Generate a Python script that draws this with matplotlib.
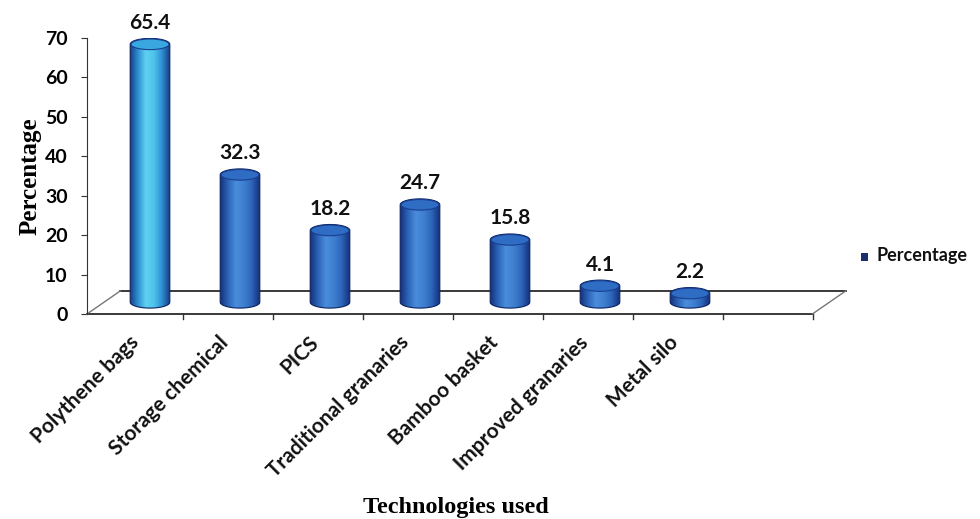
import numpy as np
import matplotlib.pyplot as plt
from matplotlib.path import Path
from matplotlib.patches import PathPatch, Ellipse, Rectangle
from matplotlib.colors import LinearSegmentedColormap

categories = ['Polythene bags', 'Storage chemical', 'PICS', 'Traditional granaries',
              'Bamboo basket', 'Improved granaries', 'Metal silo']
values = [65.4, 32.3, 18.2, 24.7, 15.8, 4.1, 2.2]
y_ticks = [0, 10, 20, 30, 40, 50, 60, 70]

W, H = 980, 519
fig = plt.figure(figsize=(W / 100, H / 100), dpi=100)
# axes placed in pixel terms: y=0 at 314px, y=70 at 38px
x0_px, x1_px = 87, 840
ax = fig.add_axes([x0_px / W, (H - 314) / H, (x1_px - x0_px) / W, (314 - 38) / H])
px_per_unit = 90.0
xmin = -0.7
xmax = xmin + (x1_px - x0_px) / px_per_unit

# pseudo-3d floor
depth_x, depth_y = 0.37, 5.85
front_l, front_r = -0.7, 7.36
floor_kw = dict(color='#2a2a2a', lw=1.3, clip_on=False, zorder=1)
ax.plot([front_l, front_r], [0, 0], **floor_kw)
ax.plot([front_l + depth_x, front_r + depth_x], [depth_y, depth_y], **floor_kw)
ax.plot([front_l, front_l + depth_x], [0, depth_y], color='#777777', lw=1, clip_on=False)
ax.plot([front_r, front_r + depth_x], [0, depth_y], color='#777777', lw=1, clip_on=False)
for t in np.arange(0.37, 7.4, 1.0):
    ax.plot([t, t], [0, -1.2], color='#333333', lw=1, clip_on=False)

# cylinders
base = 3.0
bw = 0.44
eh = 3.0
cmap_first = LinearSegmentedColormap.from_list('c1', ['#173f86', '#2f8fd2', '#5fd2f2', '#4fc4ec', '#2f8fd2', '#173f86'])
cmap_rest = LinearSegmentedColormap.from_list('c2', ['#14307a', '#2c64b8', '#4a8ddb', '#3f7fd0', '#2c64b8', '#14307a'])
grad = np.linspace(0, 1, 200).reshape(1, -1)

for i, v in enumerate(values):
    cx = i
    top = base + v
    t1 = np.linspace(np.pi, 2 * np.pi, 60)
    t2 = np.linspace(0, np.pi, 60)
    xs = np.concatenate([cx + bw / 2 * np.cos(t1), cx + bw / 2 * np.cos(t2)])
    ys = np.concatenate([base + eh / 2 * np.sin(t1), top + eh / 2 * np.sin(t2)])
    verts = np.column_stack([xs, ys])
    path = Path(np.vstack([verts, verts[:1]]), closed=True)
    patch = PathPatch(path, facecolor='none', edgecolor='#0d2460', lw=0.8, zorder=3)
    ax.add_patch(patch)
    cmap = cmap_first if i == 0 else cmap_rest
    im = ax.imshow(grad, cmap=cmap, aspect='auto', zorder=2,
                   extent=[cx - bw / 2, cx + bw / 2, base - eh, top + eh])
    im.set_clip_path(patch)
    cap_col = '#3aa8e0' if i == 0 else '#2f6cc4'
    ax.add_patch(Ellipse((cx, top), bw * 0.96, eh * 0.9, facecolor=cap_col,
                         edgecolor='#1a3f8f', lw=0.8, zorder=4))
    ax.annotate(f'{v}', (cx, top + eh / 2), xytext=(0, 4), textcoords='offset points',
                ha='center', va='bottom', fontsize=15, fontweight='bold', family='Lato',
                color='#111111')

ax.set_xlim(xmin, xmax)
ax.set_ylim(0, 70)

for s in ['top', 'right', 'bottom']:
    ax.spines[s].set_visible(False)
ax.spines['left'].set_color('#333333')
ax.set_xticks([])
ax.set_yticks(y_ticks)
ax.set_yticklabels([str(t) for t in y_ticks], fontsize=14, fontweight='bold', family='Lato')
ax.tick_params(axis='y', length=4, color='#333333', pad=10)

# category labels
for i, c in enumerate(categories):
    ax.text(i - 0.24, -4.6, c, rotation=45, ha='right', va='top', rotation_mode='anchor',
            fontsize=15, fontweight='bold', family='Lato', color='#111111')

ax.set_ylabel('Percentage', fontsize=18, fontweight='bold', family='Liberation Serif', labelpad=2)
fig.text(456 / W, 1 - 507 / H, 'Technologies used', ha='center', va='center',
         fontsize=17.5, fontweight='bold', family='Liberation Serif')

# legend
fig.patches.append(Rectangle((861 / W, 1 - 261 / H), 7 / W, 8 / H, transform=fig.transFigure,
                             facecolor='#1a2f6e', edgecolor='none'))
fig.text(876 / W, 1 - 256 / H, 'Percentage', ha='left', va='center', fontsize=13,
         fontweight='bold', family='Lato', color='#111111')

fig.savefig('out.png', dpi=100)
